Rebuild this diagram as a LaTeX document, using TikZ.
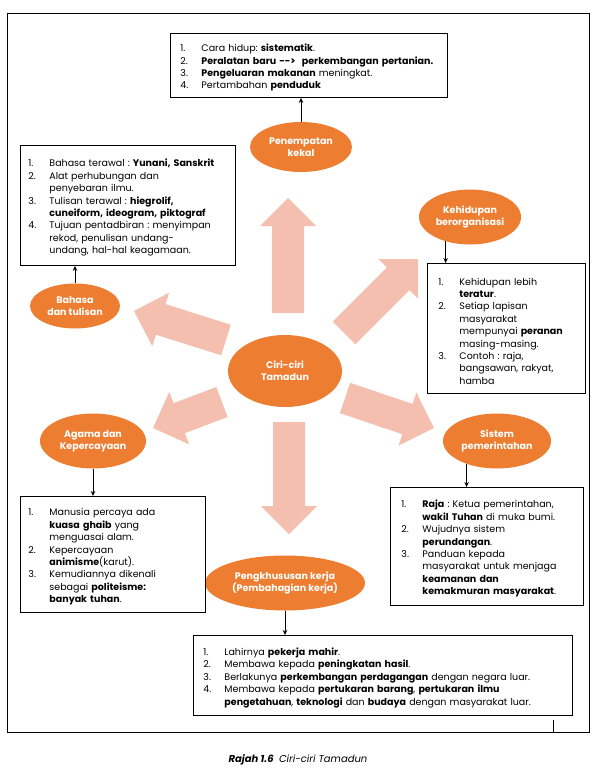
\documentclass[tikz,border=0pt]{standalone}
\usepackage{fontspec}
\setmainfont{Poppins}
\usetikzlibrary{positioning,calc,arrows.meta,shapes.geometric}
\definecolor{ovalfill}{HTML}{ED7D31}
\definecolor{arrowfill}{HTML}{F4BFAE}
\frenchspacing

\newenvironment{pointlist}{%
  \begin{list}{\arabic{enumi}.}{\usecounter{enumi}%
    \setlength{\leftmargin}{21pt}\setlength{\labelwidth}{21pt}%
    \setlength{\rightmargin}{-20pt}%
    \setlength{\labelsep}{0pt}\setlength{\itemsep}{0pt}%
    \setlength{\parsep}{0pt}\setlength{\topsep}{0pt}%
    \setlength{\partopsep}{0pt}%
    \def\makelabel##1{##1\hfil}}}%
  {\end{list}}

% fat arrow from tail (#1) to tip (#2)
\newcommand{\fatarrow}[2]{%
  \coordinate (hb) at ($(#2)!28pt!(#1)$);
  \fill[arrowfill] ($(#1)!16pt!90:(#2)$) -- ($(hb)!16pt!-90:(#1)$)
    -- ($(hb)!28pt!-90:(#1)$) -- (#2) -- ($(hb)!28pt!90:(#1)$)
    -- ($(hb)!16pt!90:(#1)$) -- ($(#1)!16pt!-90:(#2)$) -- cycle;
}

\begin{document}
\begin{tikzpicture}[
        x=1pt, y=-1pt,
        oval/.style={
            ellipse,
            fill=ovalfill,
            text=white,
            align=center,
            inner sep=0pt,
            font=\fontsize{9.5}{12}\selectfont\bfseries
        },
        infobox/.style={
            rectangle,
            draw=black,
            line width=0.9pt,
            anchor=north west,
            align=left,
            inner ysep=4pt,
            font=\fontsize{9.5}{12.4}\selectfont
        },
        conn/.style={
            -{Stealth[length=5pt,width=4.5pt]},
            line width=0.8pt
        }
    ]
        \useasboundingbox (0,0) rectangle (600,773);

        % outer frame
        \draw[line width=0.9pt] (7,13) rectangle (589,732);
        \draw[line width=0.9pt] (553,720) -- (553,732);

        % fat arrows round the centre
        \coordinate (upT) at (288,313);   \coordinate (upH) at (288,198);
        \coordinate (dnT) at (289,422);   \coordinate (dnH) at (289,534);
        \coordinate (urT) at (344,333);   \coordinate (urH) at (418,259);
        \coordinate (ulT) at (226,340);   \coordinate (ulH) at (134,311);
        \coordinate (llT) at (222,402);   \coordinate (llH) at (153,428);
        \coordinate (lrT) at (345,398);   \coordinate (lrH) at (434,428);
        \fatarrow{upT}{upH}
        \fatarrow{dnT}{dnH}
        \fatarrow{urT}{urH}
        \fatarrow{ulT}{ulH}
        \fatarrow{llT}{llH}
        \fatarrow{lrT}{lrH}

        % ovals
        \node[oval, minimum width=114pt, minimum height=72pt] (cen) at (285,371) {Ciri-ciri\\Tamadun};
        \node[oval, minimum width=102pt, minimum height=50pt] (pen) at (301,147) {Penempatan\\kekal};
        \node[oval, minimum width=102pt, minimum height=55pt] (keh) at (470,217) {Kehidupan\\berorganisasi};
        \node[oval, minimum width=90pt, minimum height=45pt] (bah) at (75,306) {Bahasa\\dan tulisan};
        \node[oval, minimum width=106pt, minimum height=55pt] (aga) at (93,441) {Agama dan\\Kepercayaan};
        \node[oval, minimum width=108pt, minimum height=55pt] (sis) at (497,441) {Sistem\\pemerintahan};
        \node[oval, minimum width=160pt, minimum height=55pt] (pkh) at (285,583) {Pengkhususan kerja\\(Pembahagian kerja)};

        % boxes
        \node[infobox, inner xsep=10pt, text width=257pt, minimum height=64pt] (penbox) at (170,33) {%
            \begin{pointlist}
            \item Cara hidup: \textbf{sistematik}.
            \item \textbf{Peralatan baru -{}->\ \ perkembangan pertanian.}
            \item \textbf{Pengeluaran makanan} meningkat.
            \item Pertambahan \textbf{penduduk}
            \end{pointlist}};
        \node[infobox, inner xsep=8pt, text width=199pt, minimum height=120pt] (bahbox) at (20,145) {%
            \begin{pointlist}
            \item Bahasa terawal : \textbf{Yunani, Sanskrit}
            \item Alat perhubungan dan\\penyebaran ilmu.
            \item Tulisan terawal : \textbf{hiegrolif,}\\\textbf{cuneiform, ideogram, piktograf}
            \item Tujuan pentadbiran : menyimpan\\rekod, penulisan undang-\\undang, hal-hal keagamaan.
            \end{pointlist}};
        \node[infobox, inner xsep=11pt, text width=136pt, minimum height=130pt] (kehbox) at (427,263) {%
            \begin{pointlist}
            \item Kehidupan lebih\\\textbf{teratur}.
            \item Setiap lapisan\\masyarakat\\mempunyai \textbf{peranan}\\masing-masing.
            \item Contoh : raja,\\bangsawan, rakyat,\\hamba
            \end{pointlist}};
        \node[infobox, inner xsep=8pt, text width=169pt, minimum height=116pt] (agabox) at (20,496) {%
            \begin{pointlist}
            \item Manusia percaya ada\\\textbf{kuasa ghaib} yang\\menguasai alam.
            \item Kepercayaan\\\textbf{animisme}(karut).
            \item Kemudiannya dikenali\\sebagai \textbf{politeisme:}\\\textbf{banyak tuhan}.
            \end{pointlist}};
        \node[infobox, inner xsep=11pt, text width=171pt, minimum height=118pt] (sisbox) at (390,487) {%
            \begin{pointlist}
            \item \textbf{Raja} : Ketua pemerintahan,\\\textbf{wakil Tuhan} di muka bumi.
            \item Wujudnya sistem\\\textbf{perundangan}.
            \item Panduan kepada\\masyarakat untuk menjaga\\\textbf{keamanan dan}\\\textbf{kemakmuran masyarakat}.
            \end{pointlist}};
        \node[infobox, inner xsep=10pt, text width=359pt, minimum height=80pt] (pkhbox) at (193,635) {%
            \begin{pointlist}
            \item Lahirnya \textbf{pekerja mahir}.
            \item Membawa kepada \textbf{peningkatan hasil}.
            \item Berlakunya \textbf{perkembangan perdagangan} dengan negara luar.
            \item Membawa kepada \textbf{pertukaran barang}, \textbf{pertukaran ilmu}\\\textbf{pengetahuan}, \textbf{teknologi} dan \textbf{budaya} dengan masyarakat luar.
            \end{pointlist}};

        % small arrows oval -> box
        \draw[conn] (pen.north) -- (pen.north |- penbox.south);
        \draw[conn] (bah.north) -- (bah.north |- bahbox.south);
        \draw[conn] (keh.-135) -- (keh.-135 |- kehbox.north);
        \draw[conn] (aga.south) -- (aga.south |- agabox.north);
        \draw[conn] (sis.-143) -- (sis.-143 |- sisbox.north);
        \draw[conn] (pkh.south) -- (pkh.south |- pkhbox.north);

        % caption
        \node[font=\fontsize{10}{12}\selectfont] (cap) at (298,760) {\textbf{\textit{Rajah 1.6}}\ \ \textit{Ciri-ciri Tamadun}};
    \end{tikzpicture}
\end{document}
